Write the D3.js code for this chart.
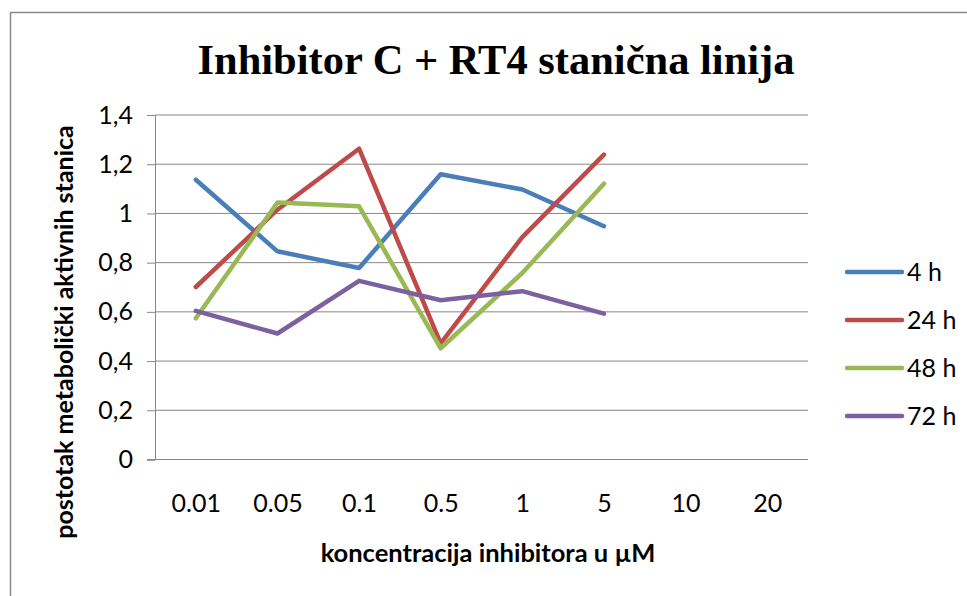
<!DOCTYPE html>
<html>
<head>
<meta charset="utf-8">
<script src="https://cdn.jsdelivr.net/npm/d3@7"></script>
<style>
  body { margin: 0; background: #fff; }
  text { font-family: Lato, "Open Sans", sans-serif; fill: #000; }
</style>
</head>
<body>
<script>
const concentrations = ['0.01', '0.05', '0.1', '0.5', '1', '5', '10', '20'];
const seriesNames = ['4 h', '24 h', '48 h', '72 h'];
const h4 = [1.137, 0.846, 0.778, 1.159, 1.097, 0.948];
const h24 = [0.701, 1.015, 1.263, 0.472, 0.904, 1.239];
const h48 = [0.574, 1.044, 1.029, 0.452, 0.758, 1.121];
const h72 = [0.604, 0.512, 0.726, 0.647, 0.684, 0.593];
const yTicks = [0, 0.2, 0.4, 0.6, 0.8, 1, 1.2, 1.4];

const colors = ['#4A7EBB', '#BE4B48', '#98B954', '#7D60A0'];
const allSeries = [h4, h24, h48, h72];

const W = 967, H = 596;
const svg = d3.select('body').append('svg')
  .attr('width', W)
  .attr('height', H);

// chart border
svg.append('rect')
  .attr('x', 10.5).attr('y', 12.5)
  .attr('width', W + 20).attr('height', H + 20)
  .attr('fill', 'none')
  .attr('stroke', '#898989')
  .attr('stroke-width', 1.5);

const plot = {left: 155, right: 808, top: 115, bottom: 459.5};

const x = d3.scalePoint()
  .domain(concentrations)
  .range([plot.left, plot.right])
  .padding(0.5);

const y = d3.scaleLinear()
  .domain([0, 1.4])
  .range([plot.bottom, plot.top]);

// gridlines
svg.append('g')
  .selectAll('line')
  .data(yTicks.slice(1))
  .enter()
  .append('line')
    .attr('x1', plot.left).attr('x2', plot.right)
    .attr('y1', d => y(d)).attr('y2', d => y(d))
    .attr('stroke', '#878787')
    .attr('stroke-width', 1);

// y axis
const yAxis = svg.append('g')
  .attr('transform', `translate(${plot.left},0)`)
  .call(d3.axisLeft(y).tickValues(yTicks).tickSize(8).tickPadding(14)
    .tickFormat(d => String(d).replace('.', ',')));
yAxis.select('.domain').attr('stroke', '#878787');
yAxis.selectAll('.tick line').attr('stroke', '#878787');
yAxis.selectAll('.tick text').style('font-size', '25px').attr('fill', '#000');

// x axis
const xAxis = svg.append('g')
  .attr('transform', `translate(0,${plot.bottom})`)
  .call(d3.axisBottom(x).tickSize(0).tickPadding(35));
xAxis.select('.domain').attr('stroke', '#878787').attr('d', `M${plot.left - 8},0H${plot.right}`);
xAxis.selectAll('.tick text').style('font-size', '25px').attr('fill', '#000');

// lines
const line = d3.line()
  .x((d, i) => x(concentrations[i]))
  .y(d => y(d));

svg.append('g')
  .selectAll('path')
  .data(allSeries)
  .enter()
  .append('path')
    .attr('d', d => line(d))
    .attr('fill', 'none')
    .attr('stroke', (d, i) => colors[i])
    .attr('stroke-width', 4.5)
    .attr('stroke-linejoin', 'round')
    .attr('stroke-linecap', 'round');

// title
svg.append('text')
  .text('Inhibitor C + RT4 stanična linija')
  .attr('x', 496).attr('y', 74)
  .attr('text-anchor', 'middle')
  .style('font-family', '"Liberation Serif", "Times New Roman", serif')
  .style('font-weight', 'bold')
  .style('font-size', '42.5px');

// axis titles
svg.append('text')
  .text('koncentracija inhibitora u µM')
  .attr('x', 488).attr('y', 562)
  .attr('text-anchor', 'middle')
  .style('font-weight', 'bold')
  .style('font-size', '25.5px');

svg.append('text')
  .text('postotak metabolički aktivnih stanica')
  .attr('transform', 'translate(73,332) rotate(-90)')
  .attr('text-anchor', 'middle')
  .style('font-weight', 'bold')
  .style('font-size', '25px');

// legend
const legend = svg.append('g')
  .selectAll('g')
  .data(seriesNames)
  .enter()
  .append('g')
    .attr('transform', (d, i) => `translate(847,${272 + i * 48})`);
legend.append('line')
  .attr('x1', 0).attr('x2', 55)
  .attr('stroke', (d, i) => colors[i])
  .attr('stroke-width', 4.5)
  .attr('stroke-linecap', 'round');
legend.append('text')
  .text(d => d)
  .attr('x', 60).attr('y', 9)
  .style('font-size', '25px');
</script>
</body>
</html>
